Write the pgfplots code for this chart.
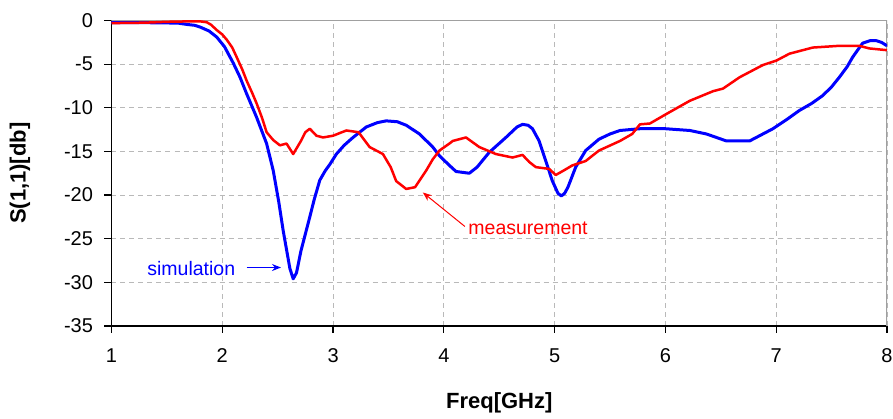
\documentclass[border=0pt]{standalone}
\usepackage{pgfplots}
\pgfplotsset{compat=1.18}
\usepackage{fontspec}
\setmainfont{Liberation Sans}
\usetikzlibrary{arrows.meta}
\definecolor{gridgray}{RGB}{185,185,185}
\definecolor{bordergray}{RGB}{160,160,160}
\begin{document}
\begin{tikzpicture}
\begin{axis}[
  scale only axis, width=775.5pt, height=305.5pt,
  xmin=1, xmax=8, ymin=-35, ymax=0,
  xtick={1,2,...,8}, ytick={-35,-30,...,0},
  grid=major, grid style={gridgray, line width=1pt, dash pattern=on 5pt off 4pt},
  axis x line*=bottom, axis y line*=left,
  axis line style={black, line width=1.2pt, -},
  tick align=outside, major tick length=7pt,
  tick style={black, line width=1.2pt},
  ticklabel style={font=\fontsize{20}{24}\selectfont},
  yticklabel style={xshift=-8pt},
  xticklabel style={yshift=-12pt},
  /pgf/number format/assume math mode=true,
  xlabel={Freq[GHz]}, ylabel={S(1,1)[db]},
  label style={font=\bfseries\fontsize{22}{26}\selectfont},
  xlabel style={at={(axis description cs:0.5,-0.252)}, anchor=center},
  ylabel style={at={(axis description cs:-0.118,0.5)}, anchor=center},
]
\coordinate (bl) at (rel axis cs:0,0);
\coordinate (tr) at (rel axis cs:1,1);
\draw[bordergray, line width=1.2pt] (rel axis cs:0,1) -- (rel axis cs:1,1) -- (rel axis cs:1,0);
\addplot[blue, line width=3pt, line join=round] coordinates {
(1.00,-0.25) (1.30,-0.25) (1.60,-0.3) (1.68,-0.45) (1.75,-0.55) (1.80,-0.75) (1.88,-1.2) (1.95,-1.9) (2.02,-3.0) (2.10,-4.9) (2.16,-6.5) (2.22,-8.4) (2.31,-11.1) (2.40,-14.1) (2.46,-17.2) (2.51,-20.8) (2.55,-24.1) (2.61,-28.4) (2.64,-29.6) (2.67,-28.9) (2.71,-26.4) (2.79,-22.5) (2.83,-20.5) (2.88,-18.3) (2.93,-17.2) (2.97,-16.5) (3.03,-15.3) (3.10,-14.3) (3.18,-13.4) (3.30,-12.2) (3.40,-11.7) (3.48,-11.5) (3.58,-11.6) (3.66,-12.0) (3.78,-13.0) (3.90,-14.5) (3.96,-15.5) (4.05,-16.6) (4.11,-17.3) (4.23,-17.5) (4.30,-16.8) (4.41,-15.1) (4.56,-13.4) (4.66,-12.2) (4.71,-11.9) (4.76,-12.0) (4.80,-12.4) (4.86,-13.8) (4.92,-16.1) (4.98,-18.4) (5.03,-19.8) (5.06,-20.1) (5.09,-19.8) (5.12,-19.1) (5.19,-16.8) (5.28,-14.9) (5.40,-13.6) (5.50,-13.0) (5.59,-12.6) (5.77,-12.4) (6.00,-12.4) (6.22,-12.6) (6.37,-13.0) (6.55,-13.8) (6.76,-13.8) (6.85,-13.2) (6.97,-12.4) (7.10,-11.3) (7.21,-10.3) (7.32,-9.5) (7.42,-8.6) (7.50,-7.6) (7.57,-6.5) (7.64,-5.3) (7.69,-4.2) (7.74,-3.3) (7.78,-2.6) (7.85,-2.3) (7.90,-2.3) (7.95,-2.5) (8.00,-2.9)
};
\addplot[red, line width=2.5pt, line join=round] coordinates {
(1.00,-0.3) (1.30,-0.25) (1.50,-0.15) (1.70,-0.1) (1.80,-0.1) (1.86,-0.2) (1.90,-0.5) (1.95,-1.1) (2.00,-1.6) (2.04,-2.2) (2.09,-3.1) (2.13,-4.2) (2.18,-5.6) (2.22,-6.9) (2.27,-8.3) (2.31,-9.5) (2.36,-11.2) (2.40,-12.8) (2.46,-13.7) (2.52,-14.3) (2.58,-14.1) (2.64,-15.3) (2.71,-13.8) (2.75,-12.8) (2.79,-12.4) (2.85,-13.2) (2.91,-13.4) (3.00,-13.2) (3.12,-12.6) (3.23,-12.8) (3.33,-14.5) (3.45,-15.3) (3.52,-16.8) (3.57,-18.4) (3.66,-19.3) (3.74,-19.1) (3.84,-17.2) (3.90,-15.9) (3.96,-14.9) (4.05,-14.1) (4.08,-13.8) (4.20,-13.4) (4.32,-14.5) (4.47,-15.3) (4.62,-15.7) (4.71,-15.4) (4.77,-16.2) (4.83,-16.8) (4.95,-17.0) (5.01,-17.7) (5.08,-17.2) (5.16,-16.6) (5.28,-16.1) (5.40,-14.9) (5.59,-13.8) (5.70,-13.0) (5.77,-11.9) (5.86,-11.8) (6.01,-10.7) (6.22,-9.2) (6.43,-8.1) (6.52,-7.8) (6.67,-6.5) (6.88,-5.1) (7.00,-4.6) (7.12,-3.8) (7.33,-3.1) (7.57,-2.9) (7.75,-2.9) (7.84,-3.2) (8.00,-3.4)
};
\node[blue, font=\fontsize{19.5}{22}\selectfont] at (axis cs:1.72,-28.4) {simulation};
\draw[blue, line width=1.2pt, -{Stealth[length=9pt,width=7pt]}] (axis cs:2.22,-28.3) -- (axis cs:2.53,-28.3);
\node[red, font=\fontsize{19.5}{22}\selectfont] at (axis cs:4.76,-23.8) {measurement};
\draw[red, line width=1pt, -{Stealth[length=9pt,width=7pt]}] (axis cs:4.19,-23.6) -- (axis cs:3.81,-19.7);
\end{axis}
\pgfresetboundingbox
\path[use as bounding box] ([shift={(-111.5pt,-93pt)}]bl) rectangle ([shift={(6pt,20.5pt)}]tr);
\end{tikzpicture}
\end{document}
